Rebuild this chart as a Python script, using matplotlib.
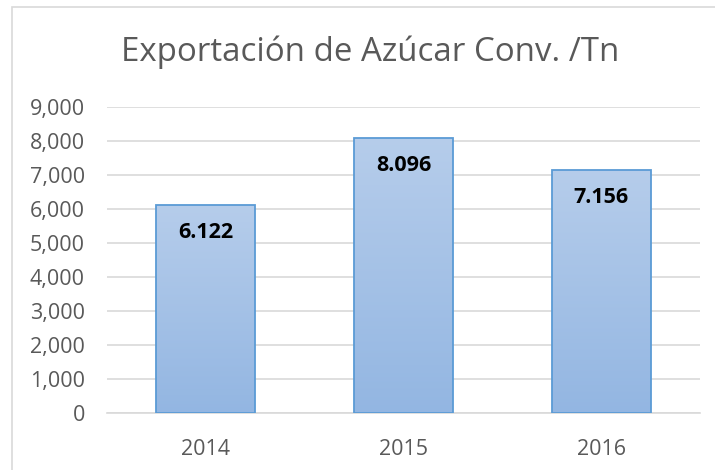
import matplotlib
matplotlib.use("Agg")
import matplotlib.pyplot as plt
import numpy as np
from matplotlib.patches import Rectangle
from matplotlib.colors import LinearSegmentedColormap

years = ["2014", "2015", "2016"]
values = [6122, 8096, 7156]
value_labels = ["6.122", "8.096", "7.156"]
y_ticks = [0, 1000, 2000, 3000, 4000, 5000, 6000, 7000, 8000, 9000]
title = "Exportación de Azúcar Conv. /Tn"

plt.rcParams['font.family'] = ['Open Sans', 'DejaVu Sans']

W, H = 715, 470
fig = plt.figure(figsize=(W/100, H/100), dpi=100)
fig.patch.set_facecolor('white')

# outer chart border
fig.patches.append(Rectangle((12/W, -0.1), 1.2, 1 - 7/H + 0.1, transform=fig.transFigure,
                             fill=False, edgecolor='#d9d9d9', linewidth=1.2))

ax = fig.add_axes([107/W, 1 - 413/H, (700 - 107)/W, (413 - 107)/H])
x = np.arange(len(years))
bars = ax.bar(x, values, width=0.5, color='#a5c2e6', edgecolor='#5b9bd5', linewidth=1.3, zorder=3)

grad = np.linspace(0, 1, 256).reshape(-1, 1)
cmap = LinearSegmentedColormap.from_list('g', ['#93b6e2', '#b6cdeb'])
for b in bars:
    x0, y0, w, h = b.get_x(), b.get_y(), b.get_width(), b.get_height()
    im = ax.imshow(grad, extent=[x0, x0 + w, y0, y0 + h], origin='lower', cmap=cmap,
                   aspect='auto', zorder=3.5)
    im.set_clip_path(b)
    b.set_facecolor('none')
    b.set_zorder(4)

for b, lab in zip(bars, value_labels):
    ax.annotate(lab, (b.get_x() + b.get_width()/2, b.get_height()), xytext=(0, -20),
                textcoords='offset points', ha='center', va='center',
                fontsize=15.5, fontweight='bold', color='black', zorder=5)

ax.set_xlim(-0.5, len(years) - 0.5)
ax.set_ylim(0, 9000)
ax.set_yticks(y_ticks)
ax.set_yticklabels([f"{v:,}" for v in y_ticks])
ax.set_xticks(x)
ax.set_xticklabels(years)
ax.grid(axis='y', color='#d9d9d9', linewidth=1.2, zorder=0)
ax.set_axisbelow(True)
for s in ['top', 'right', 'left']:
    ax.spines[s].set_visible(False)
ax.spines['bottom'].set_color('#d9d9d9')
ax.spines['bottom'].set_linewidth(1.2)
ax.tick_params(axis='both', length=0, colors='#595959', labelsize=15.5)
ax.tick_params(axis='y', pad=16)
ax.tick_params(axis='x', pad=19)

fig.text(370/W, 1 - 52/H, title, ha='center', va='center', fontsize=23.8, color='#595959')

fig.savefig('out.png', dpi=100)
